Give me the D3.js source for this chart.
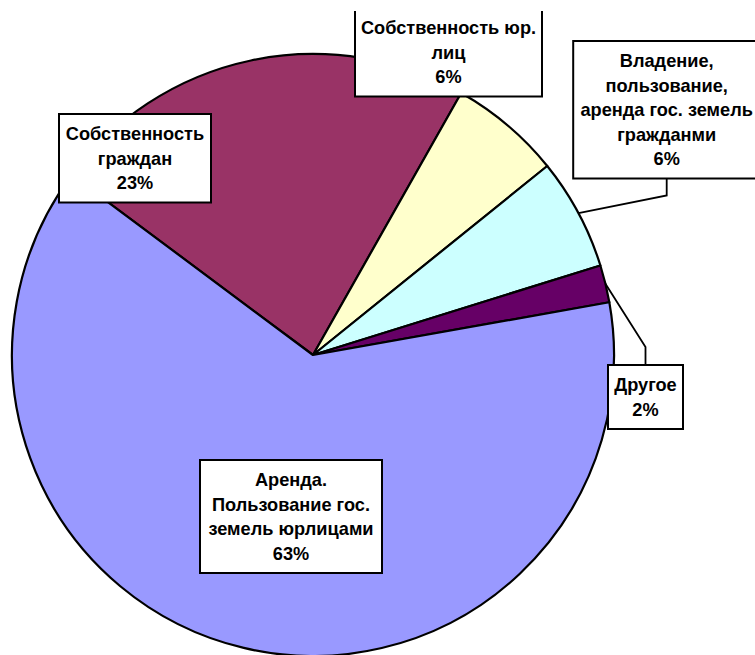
<!DOCTYPE html>
<html>
<head>
<meta charset="utf-8">
<script src="https://cdn.jsdelivr.net/npm/d3@7"></script>
<style>
  html, body { margin: 0; padding: 0; background: #fff; }
  svg { display: block; }
  text { font-family: "Liberation Sans", Arial, sans-serif; font-weight: bold; fill: #000; }
</style>
</head>
<body>
<svg id="chart" width="755" height="655"></svg>
<script>
// Land use structure: categories (label lines separated by "\n") and their shares, %
const categories = [
  "Собственность\nграждан",
  "Собственность юр.\nлиц",
  "Владение,\nпользование,\nаренда гос. земель\nгражданми",
  "Другое",
  "Аренда.\nПользование гос.\nземель юрлицами"
];
const shares = [23, 6, 6, 2, 63];
const sliceColors = ["#993366", "#FFFFCC", "#CCFFFF", "#660066", "#9999FF"];

// Label box placement: centre x, top y, width, and optional leader ("up"/"down")
const labelBoxes = [
  { cx: 135,   top: 114, w: 152, leader: null },
  { cx: 448.5, top: 8,   w: 187, leader: null },
  { cx: 666.7, top: 41,  w: 187, leader: "down" },
  { cx: 645.5, top: 365, w: 75,  leader: "up" },
  { cx: 291,   top: 460, w: 182, leader: null }
];

const W = 755, H = 655;
const cx = 313, cy = 355, R = 301;
const lineH = 24.5, padTop = 19.5, fontSize = 18.2;

const svg = d3.select("#chart");

svg.append("defs").append("clipPath").attr("id", "plotClip")
  .append("rect").attr("x", 0).attr("y", 11).attr("width", W).attr("height", H - 11);

const root = svg.append("g").attr("clip-path", "url(#plotClip)");

const startAngle = -53.3 * Math.PI / 180;
const pie = d3.pie().sort(null).value(d => d)
  .startAngle(startAngle).endAngle(startAngle + 2 * Math.PI);
const arcs = pie(shares);
const arc = d3.arc().innerRadius(0).outerRadius(R);

const pieG = root.append("g").attr("transform", `translate(${cx},${cy})`);
pieG.selectAll("path").data(arcs).join("path")
  .attr("d", arc)
  .attr("fill", (d, i) => sliceColors[i])
  .attr("stroke", "#000")
  .attr("stroke-width", 2.2)
  .attr("stroke-linejoin", "round");

// Leader lines from boxes to the slice edge at the slice's middle angle
const labelsG = root.append("g");
arcs.forEach((a, i) => {
  const b = labelBoxes[i];
  if (!b.leader) return;
  const nLines = categories[i].split("\n").length + 1;
  const h = nLines * lineH + 15;
  const mid = (a.startAngle + a.endAngle) / 2;
  const px = cx + R * Math.sin(mid), py = cy - R * Math.cos(mid);
  const ay = b.leader === "down" ? b.top + h : b.top;
  const ey = b.leader === "down" ? ay + 17 : ay - 18;
  labelsG.append("path")
    .attr("d", d3.line()([[b.cx, ay], [b.cx, ey], [px, py]]))
    .attr("fill", "none").attr("stroke", "#000").attr("stroke-width", 1.8);
});

// Label boxes with category name and percentage
arcs.forEach((a, i) => {
  const b = labelBoxes[i];
  const lines = categories[i].split("\n").concat([d3.format(".0f")(a.data) + "%"]);
  const h = lines.length * lineH + 15;
  const g = labelsG.append("g");
  g.append("rect")
    .attr("x", b.cx - b.w / 2).attr("y", b.top)
    .attr("width", b.w).attr("height", h)
    .attr("fill", "#fff").attr("stroke", "#000").attr("stroke-width", 2);
  g.selectAll("text").data(lines).join("text")
    .attr("x", b.cx)
    .attr("y", (d, k) => b.top + padTop + k * lineH + fontSize * 0.36)
    .attr("text-anchor", "middle")
    .attr("font-size", fontSize)
    .text(d => d);
});
</script>
</body>
</html>
